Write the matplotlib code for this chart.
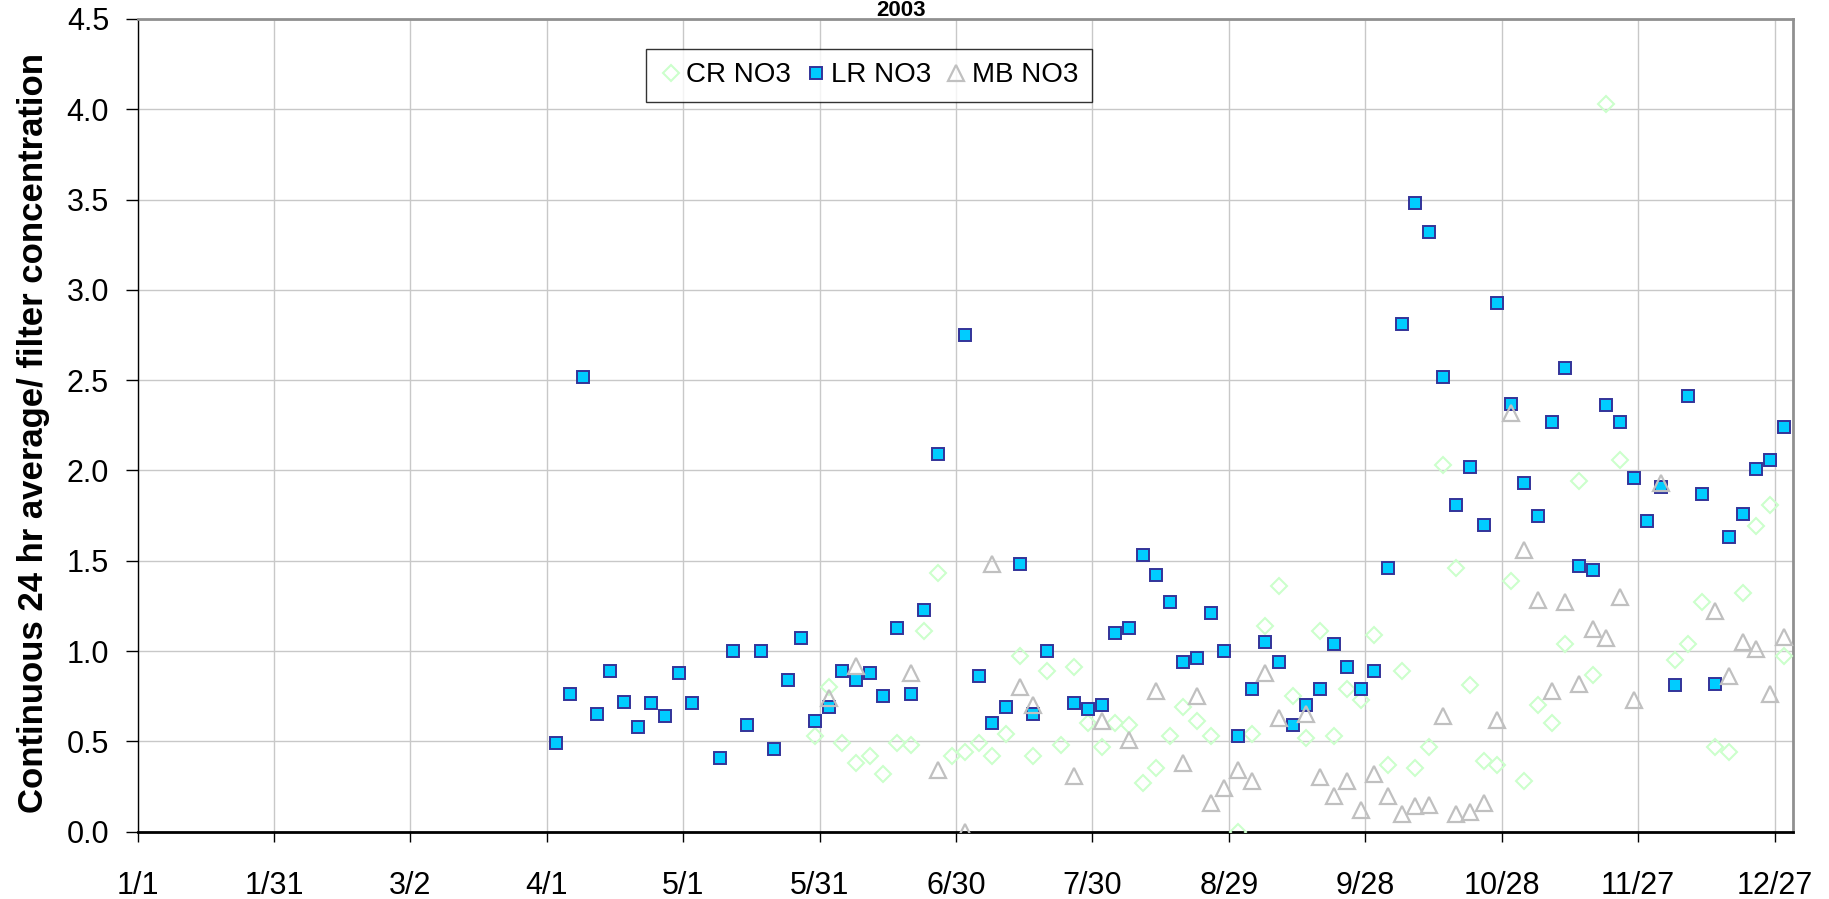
import numpy as np
import pandas as pd
import matplotlib
matplotlib.use('Agg')
import matplotlib.pyplot as plt

nan = np.nan

# sampling schedule: every third day from Apr 3 2003
start_date = '2003-04-03'
n_samples = 91
sample_dates = pd.date_range(start_date, periods=n_samples, freq='3D')

# continuous 24 hr average / filter concentration
lr_no3 = [0.49, 0.76, 2.52, 0.65, 0.89, 0.72, 0.58, 0.71, 0.64, 0.88,
          0.71, nan, 0.41, 1.00, 0.59, 1.00, 0.46, 0.84, 1.07, 0.61,
          0.69, 0.89, 0.84, 0.88, 0.75, 1.13, 0.76, 1.23, 2.09, nan,
          2.75, 0.86, 0.60, 0.69, 1.48, 0.65, 1.00, nan, 0.71, 0.68,
          0.70, 1.10, 1.13, 1.53, 1.42, 1.27, 0.94, 0.96, 1.21, 1.00,
          0.53, 0.79, 1.05, 0.94, 0.59, 0.70, 0.79, 1.04, 0.91, 0.79,
          0.89, 1.46, 2.81, 3.48, 3.32, 2.52, 1.81, 2.02, 1.70, 2.93,
          2.37, 1.93, 1.75, 2.27, 2.57, 1.47, 1.45, 2.36, 2.27, 1.96,
          1.72, 1.91, 0.81, 2.41, 1.87, 0.82, 1.63, 1.76, 2.01, 2.06,
          2.24]

cr_no3 = [nan] * 19 + [
          0.53, 0.80, 0.49, 0.38, 0.42, 0.32, 0.49, 0.48, 1.11, 1.43, 0.42,
          0.44, 0.49, 0.42, 0.54, 0.97, 0.42, 0.89, 0.48, 0.91, 0.60,
          0.47, 0.60, 0.59, 0.27, 0.35, 0.53, 0.69, 0.61, 0.53, nan,
          0.00, 0.54, 1.14, 1.36, 0.75, 0.52, 1.11, 0.53, 0.79, 0.73,
          1.09, 0.37, 0.89, 0.35, 0.47, 2.03, 1.46, 0.81, 0.39, 0.37,
          1.39, 0.28, 0.70, 0.60, 1.04, 1.94, 0.87, 4.03, 2.06, nan,
          nan, nan, 0.95, 1.04, 1.27, 0.47, 0.44, 1.32, 1.69, 1.81,
          0.97]

mb_no3 = [nan] * 20 + [
          0.74, nan, 0.92, nan, nan, nan, 0.88, nan, 0.34, nan,
          0.00, nan, 1.48, nan, 0.80, 0.70, nan, nan, 0.31, nan,
          0.61, nan, 0.51, nan, 0.78, nan, 0.38, 0.75, 0.16, 0.24,
          0.34, 0.28, 0.88, 0.63, nan, 0.65, 0.30, 0.20, 0.28, 0.12,
          0.32, 0.20, 0.10, 0.14, 0.15, 0.64, 0.10, 0.11, 0.16, 0.62,
          2.32, 1.56, 1.28, 0.78, 1.27, 0.82, 1.12, 1.07, 1.30, 0.73,
          nan, 1.93, nan, nan, nan, 1.22, 0.86, 1.05, 1.01, 0.76,
          1.08]

tick_dates = pd.date_range('2003-01-01', periods=13, freq='30D')
y_ticks = [0.0, 0.5, 1.0, 1.5, 2.0, 2.5, 3.0, 3.5, 4.0, 4.5]

plt.rcParams['font.family'] = ['Liberation Sans', 'DejaVu Sans']

fig = plt.figure(figsize=(18.29, 8.99), dpi=100)
ax = fig.add_axes([0.0752, 0.0749, 0.905, 0.904])

ax.plot(sample_dates, cr_no3, linestyle='none', marker='D', markersize=8,
        markerfacecolor='none', markeredgecolor='#CCFFCC', markeredgewidth=1.5,
        label='CR NO3', zorder=3)
ax.plot(sample_dates, lr_no3, linestyle='none', marker='s', markersize=9.3,
        markerfacecolor='#00CCFF', markeredgecolor='#333399', markeredgewidth=1.4,
        label='LR NO3', zorder=4)
ax.plot(sample_dates, mb_no3, linestyle='none', marker='^', markersize=11,
        markerfacecolor='none', markeredgecolor='#C0C0C0', markeredgewidth=1.6,
        label='MB NO3', zorder=5)

ax.set_xlim(pd.Timestamp('2003-01-01'), pd.Timestamp('2003-12-31'))
ax.set_ylim(0, 4.5)
ax.set_xticks(tick_dates)
ax.set_xticklabels([f'{d.month}/{d.day}' for d in tick_dates])
ax.set_yticks(y_ticks)
ax.set_yticklabels([f'{v:.1f}' for v in y_ticks])

ax.grid(True, color='#C8C8C8', linewidth=1.0)
ax.set_axisbelow(True)

ax.tick_params(axis='x', direction='out', length=7, width=1, pad=21, labelsize=22)
ax.tick_params(axis='y', direction='out', length=8.5, width=1, pad=12, labelsize=22)

ax.spines['left'].set_color('black')
ax.spines['left'].set_linewidth(1.0)
ax.spines['bottom'].set_color('black')
ax.spines['bottom'].set_linewidth(2.0)
ax.spines['top'].set_color('#909090')
ax.spines['top'].set_linewidth(2.0)
ax.spines['right'].set_color('#909090')
ax.spines['right'].set_linewidth(2.0)

ax.set_ylabel('Continuous 24 hr average/ filter concentration',
              fontsize=25, fontweight='bold')
ax.yaxis.set_label_coords(-0.053, 0.49)

leg = ax.legend(loc='upper left', bbox_to_anchor=(0.307, 0.9636), ncol=3,
                fontsize=20, frameon=True, fancybox=False, shadow=False,
                handletextpad=0.15, columnspacing=0.5, borderpad=0.5,
                handlelength=0.8, borderaxespad=0)
leg.get_frame().set_edgecolor('black')
leg.get_frame().set_linewidth(1.0)

fig.text(0.4926, 1.0, '2003', ha='center', va='top',
         fontsize=16, fontweight='bold')

fig.savefig('out.png', dpi=100)
